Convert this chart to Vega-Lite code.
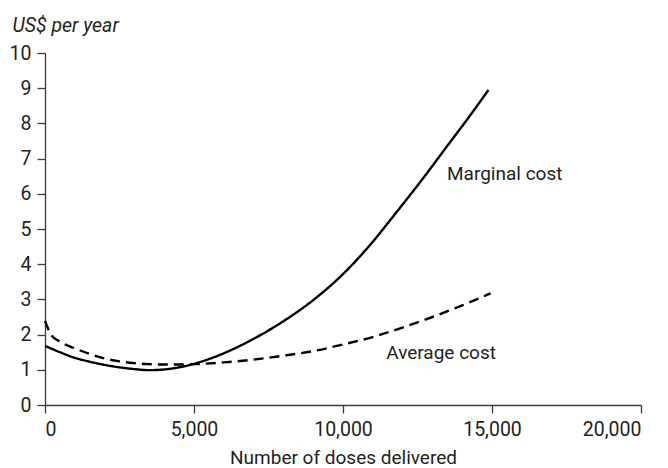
{
  "$schema": "https://vega.github.io/schema/vega-lite/v6.json",
  "width": 596,
  "height": 352,
  "autosize": {"type": "none"},
  "padding": {"left": 45, "top": 53, "right": 27, "bottom": 63},
  "background": "white",
  "config": {
    "view": {"stroke": null},
    "axis": {
      "grid": false,
      "domainColor": "#3a3a3a",
      "tickColor": "#3a3a3a",
      "domainWidth": 1.3,
      "tickWidth": 1.3,
      "tickSize": 8,
      "labelFont": "Roboto",
      "labelFontSize": 19.5,
      "labelColor": "#231f20",
      "titleFont": "Roboto",
      "titleFontSize": 19,
      "titleFontWeight": "normal",
      "titleColor": "#231f20"
    }
  },
  "datasets": {
    "curves": [
      {"series": "Marginal cost", "doses": 0, "cost": 1.68},
      {"series": "Marginal cost", "doses": 500, "cost": 1.5},
      {"series": "Marginal cost", "doses": 1000, "cost": 1.34},
      {"series": "Marginal cost", "doses": 1500, "cost": 1.23},
      {"series": "Marginal cost", "doses": 2000, "cost": 1.14},
      {"series": "Marginal cost", "doses": 2500, "cost": 1.07},
      {"series": "Marginal cost", "doses": 3000, "cost": 1.02},
      {"series": "Marginal cost", "doses": 3500, "cost": 0.99},
      {"series": "Marginal cost", "doses": 4000, "cost": 1.01},
      {"series": "Marginal cost", "doses": 4500, "cost": 1.07},
      {"series": "Marginal cost", "doses": 5000, "cost": 1.17},
      {"series": "Marginal cost", "doses": 6000, "cost": 1.47},
      {"series": "Marginal cost", "doses": 7000, "cost": 1.88},
      {"series": "Marginal cost", "doses": 8000, "cost": 2.38},
      {"series": "Marginal cost", "doses": 9000, "cost": 2.98},
      {"series": "Marginal cost", "doses": 10000, "cost": 3.72},
      {"series": "Marginal cost", "doses": 10860, "cost": 4.5},
      {"series": "Marginal cost", "doses": 11760, "cost": 5.44},
      {"series": "Marginal cost", "doses": 12650, "cost": 6.4},
      {"series": "Marginal cost", "doses": 13490, "cost": 7.35},
      {"series": "Marginal cost", "doses": 14330, "cost": 8.3},
      {"series": "Marginal cost", "doses": 14880, "cost": 8.95},
      {"series": "Average cost", "doses": 0, "cost": 2.39},
      {"series": "Average cost", "doses": 200, "cost": 2.0},
      {"series": "Average cost", "doses": 500, "cost": 1.8},
      {"series": "Average cost", "doses": 1000, "cost": 1.61},
      {"series": "Average cost", "doses": 1500, "cost": 1.45},
      {"series": "Average cost", "doses": 2000, "cost": 1.32},
      {"series": "Average cost", "doses": 2500, "cost": 1.24},
      {"series": "Average cost", "doses": 3000, "cost": 1.19},
      {"series": "Average cost", "doses": 3500, "cost": 1.16},
      {"series": "Average cost", "doses": 4000, "cost": 1.15},
      {"series": "Average cost", "doses": 4500, "cost": 1.15},
      {"series": "Average cost", "doses": 5000, "cost": 1.16},
      {"series": "Average cost", "doses": 6000, "cost": 1.21},
      {"series": "Average cost", "doses": 7000, "cost": 1.29},
      {"series": "Average cost", "doses": 8000, "cost": 1.4},
      {"series": "Average cost", "doses": 9000, "cost": 1.53},
      {"series": "Average cost", "doses": 10000, "cost": 1.72},
      {"series": "Average cost", "doses": 11000, "cost": 1.93},
      {"series": "Average cost", "doses": 12000, "cost": 2.2},
      {"series": "Average cost", "doses": 13000, "cost": 2.5},
      {"series": "Average cost", "doses": 14000, "cost": 2.83},
      {"series": "Average cost", "doses": 14950, "cost": 3.17}
    ],
    "labels": [
      {"label": "Marginal cost", "doses": 13490, "cost": 6.55},
      {"label": "Average cost", "doses": 11450, "cost": 1.49}
    ]
  },
  "encoding": {
    "x": {
      "field": "doses", "type": "quantitative",
      "scale": {"domain": [0, 20000], "nice": false},
      "axis": {"values": [0, 5000, 10000, 15000, 20000], "format": ",.0f", "title": "Number of doses delivered", "labelPadding": 7, "titlePadding": 10}
    },
    "y": {
      "field": "cost", "type": "quantitative",
      "scale": {"domain": [0, 10], "nice": false},
      "axis": {
        "values": [0, 1, 2, 3, 4, 5, 6, 7, 8, 9, 10],
        "format": "d",
        "labelPadding": 6,
        "title": "US$ per year",
        "titleAngle": 0,
        "titleAlign": "left",
        "titleBaseline": "alphabetic",
        "titleX": -33,
        "titleY": -22,
        "titleFontSize": 19.5,
        "titleFontStyle": "italic"
      }
    }
  },
  "layer": [
    {
      "data": {"name": "curves"},
      "mark": {"type": "line", "interpolate": "monotone", "strokeWidth": 2.4, "color": "black"},
      "encoding": {
        "detail": {"field": "series"},
        "strokeDash": {
          "field": "series", "type": "nominal",
          "scale": {"domain": ["Marginal cost", "Average cost"], "range": [[1, 0], [10, 6]]},
          "legend": null
        }
      }
    },
    {
      "data": {"name": "labels"},
      "mark": {"type": "text", "align": "left", "baseline": "middle", "font": "Roboto", "fontSize": 19, "color": "#231f20"},
      "encoding": {
        "text": {"field": "label"}
      }
    }
  ]
}
